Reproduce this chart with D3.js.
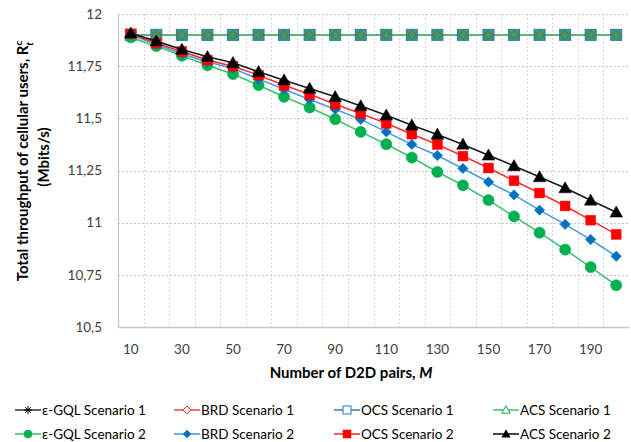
<!DOCTYPE html>
<html>
<head>
<meta charset="utf-8">
<script src="https://cdn.jsdelivr.net/npm/d3@7"></script>
<style>
  body { margin: 0; background: #fff; }
  text { font-family: Lato, "Liberation Sans", sans-serif; }
</style>
</head>
<body>
<div id="chart"></div>
<script>
// categories (number of D2D pairs)
var pairs = [10, 20, 30, 40, 50, 60, 70, 80, 90, 100, 110, 120, 130, 140, 150, 160, 170, 180, 190, 200];
var xTickLabels = [10, 30, 50, 70, 90, 110, 130, 150, 170, 190];
var yTicks = [10.5, 10.75, 11, 11.25, 11.5, 11.75, 12];

// scenario 1 : flat for every algorithm
var gql1 = [11.9, 11.9, 11.9, 11.9, 11.9, 11.9, 11.9, 11.9, 11.9, 11.9, 11.9, 11.9, 11.9, 11.9, 11.9, 11.9, 11.9, 11.9, 11.9, 11.9];
var brd1 = [11.9, 11.9, 11.9, 11.9, 11.9, 11.9, 11.9, 11.9, 11.9, 11.9, 11.9, 11.9, 11.9, 11.9, 11.9, 11.9, 11.9, 11.9, 11.9, 11.9];
var ocs1 = [11.9, 11.9, 11.9, 11.9, 11.9, 11.9, 11.9, 11.9, 11.9, 11.9, 11.9, 11.9, 11.9, 11.9, 11.9, 11.9, 11.9, 11.9, 11.9, 11.9];
var acs1 = [11.9, 11.9, 11.9, 11.9, 11.9, 11.9, 11.9, 11.9, 11.9, 11.9, 11.9, 11.9, 11.9, 11.9, 11.9, 11.9, 11.9, 11.9, 11.9, 11.9];

// scenario 2
var gql2 = [11.888, 11.846, 11.80, 11.754, 11.712, 11.659, 11.603, 11.552, 11.496, 11.435, 11.376, 11.312, 11.243, 11.179, 11.108, 11.03, 10.952, 10.871, 10.787, 10.70];
var brd2 = [11.90, 11.855, 11.81, 11.77, 11.74, 11.688, 11.639, 11.59, 11.544, 11.495, 11.435, 11.375, 11.322, 11.26, 11.195, 11.133, 11.06, 10.992, 10.919, 10.839];
var ocs2 = [11.905, 11.86, 11.82, 11.779, 11.75, 11.707, 11.658, 11.615, 11.568, 11.523, 11.476, 11.424, 11.375, 11.319, 11.262, 11.201, 11.142, 11.08, 11.012, 10.944];
var acs2 = [11.908, 11.87, 11.83, 11.795, 11.766, 11.723, 11.683, 11.643, 11.603, 11.559, 11.515, 11.467, 11.423, 11.375, 11.323, 11.272, 11.219, 11.166, 11.107, 11.05];

var legendNames = ["ε-GQL Scenario 1", "BRD Scenario 1", "OCS Scenario 1", "ACS Scenario 1",
                   "ε-GQL Scenario 2", "BRD Scenario 2", "OCS Scenario 2", "ACS Scenario 2"];

var W = 631, H = 442;
var margin = {top: 14, right: 2, bottom: 115, left: 118};
var width = W - margin.left - margin.right,
    height = H - margin.top - margin.bottom;

var svg = d3.select("#chart").append("svg")
    .attr("width", W)
    .attr("height", H);
var g = svg.append("g")
    .attr("transform", "translate(" + margin.left + "," + margin.top + ")");

var x = d3.scaleBand().domain(pairs).range([0, width]).padding(0);
var y = d3.scaleLinear().domain([10.5, 12]).range([height, 0]);
var cx = function(d) { return x(d) + x.bandwidth() / 2; };

// horizontal grid
g.append("g").selectAll("line")
  .data(yTicks.slice(1))
  .enter().append("line")
    .attr("x1", 0).attr("x2", width)
    .attr("y1", function(d) { return Math.round(y(d)) + 0.5; })
    .attr("y2", function(d) { return Math.round(y(d)) + 0.5; })
    .attr("stroke", "#c4c4c4")
    .attr("stroke-dasharray", "2,2");

// vertical grid between categories
g.append("g").selectAll("line")
  .data(pairs.slice(1))
  .enter().append("line")
    .attr("x1", function(d) { return Math.round(x(d)) + 0.5; })
    .attr("x2", function(d) { return Math.round(x(d)) + 0.5; })
    .attr("y1", 0).attr("y2", height)
    .attr("stroke", "#d4d4d4")
    .attr("stroke-dasharray", "2,2");

// axes
var yAxis = g.append("g")
  .call(d3.axisLeft(y).tickValues(yTicks).tickSize(0).tickPadding(16)
        .tickFormat(function(d) { return String(d).replace(".", ","); }));
yAxis.select(".domain").attr("stroke", "#c8c8c8").attr("stroke-width", 1.3);
yAxis.selectAll("text").style("font-size", "13.5px").attr("fill", "#404040");

var xAxis = g.append("g")
  .attr("transform", "translate(0," + height + ")")
  .call(d3.axisBottom(x).tickSize(0).tickPadding(17)
        .tickFormat(function(d) { return xTickLabels.indexOf(d) >= 0 ? d : ""; }));
xAxis.select(".domain").attr("stroke", "#c8c8c8").attr("stroke-width", 1.3);
xAxis.selectAll("text").style("font-size", "13.5px").attr("fill", "#404040");

// axis titles
svg.append("text")
  .attr("x", 351).attr("y", 378)
  .attr("text-anchor", "middle")
  .style("font-size", "15px").style("font-weight", "bold")
  .attr("fill", "#000")
  .text("Number of D2D pairs, ")
  .append("tspan").style("font-style", "italic").text("M");

var yt = svg.append("text")
  .attr("transform", "translate(28,161) rotate(-90)")
  .attr("text-anchor", "middle")
  .style("font-size", "15px").style("font-weight", "bold");
yt.append("tspan").text("Total throughput of cellular users, R");
yt.append("tspan").attr("dy", -6).style("font-size", "10px").text("c");
yt.append("tspan").attr("dx", -5).attr("dy", 11).style("font-size", "10px").style("font-style", "italic").text("t");

svg.append("text")
  .attr("transform", "translate(49,157) rotate(-90)")
  .attr("text-anchor", "middle")
  .style("font-size", "15px").style("font-weight", "bold")
  .text("(Mbits/s)");

// marker drawing, r = half size in px
function drawMarker(sel, kind, s, r) {
  var p;
  if (kind === "star") {
    var a = r * 0.7;
    sel.append("path")
      .attr("d", "M" + (-r) + ",0H" + r + "M0," + (-r) + "V" + r +
                 "M" + (-a) + "," + (-a) + "L" + a + "," + a +
                 "M" + (-a) + "," + a + "L" + a + "," + (-a))
      .attr("stroke", s.mk).attr("stroke-width", 1).attr("fill", "none");
    return;
  }
  if (kind === "circle") {
    p = sel.append("circle").attr("r", r);
  } else if (kind === "square") {
    p = sel.append("rect").attr("x", -r).attr("y", -r).attr("width", 2 * r).attr("height", 2 * r);
  } else if (kind === "diamond") {
    p = sel.append("path").attr("d", "M0," + (-r) + "L" + r + ",0L0," + r + "L" + (-r) + ",0Z");
  } else {
    p = sel.append("path").attr("d", "M0," + (-r * 1.05) + "L" + (r * 1.05) + "," + (r * 0.8) + "L" + (-r * 1.05) + "," + (r * 0.8) + "Z");
  }
  p.attr("fill", s.open ? (s.bg || "none") : s.mk)
   .attr("stroke", s.mk)
   .attr("stroke-width", s.open ? 1 : 0.5);
}

var series = [
  {name: legendNames[0], vals: gql1, line: "#404040", mk: "#000000", kind: "star", open: true, r: 4.5},
  {name: legendNames[2], vals: ocs1, line: "#3a86c8", mk: "#2e75b6", kind: "square", open: true, bg: "#3f9a7c", r: 5.5},
  {name: legendNames[1], vals: brd1, line: "#ff4b4b", mk: "#e0302f", kind: "diamond", open: true, r: 4.5},
  {name: legendNames[3], vals: acs1, line: "#4cc27a", mk: "#00b050", kind: "triangle", open: true, r: 4.5},
  {name: legendNames[4], vals: gql2, line: "#3cc372", mk: "#00b050", kind: "circle", open: false, r: 5.6},
  {name: legendNames[5], vals: brd2, line: "#4a9ee0", mk: "#0070c0", kind: "diamond", open: false, r: 5.2},
  {name: legendNames[6], vals: ocs2, line: "#ff3030", mk: "#ff0000", kind: "square", open: false, r: 4.9},
  {name: legendNames[7], vals: acs2, line: "#1a1a1a", mk: "#000000", kind: "triangle", open: false, r: 6}
];

var line = d3.line()
  .x(function(d) { return cx(d.p); })
  .y(function(d) { return y(d.v); });

// scenario 1 markers sit on top of each other: draw all markers after the four lines
var s1 = series.slice(0, 4), s2 = series.slice(4);
s1.forEach(function(s) {
  g.append("path")
    .datum(pairs.map(function(p, i) { return {p: p, v: s.vals[i]}; }))
    .attr("d", line).attr("fill", "none")
    .attr("stroke", s.line).attr("stroke-width", 1.6);
});
s1.forEach(function(s) {
  g.append("g").selectAll("g")
    .data(pairs.map(function(p, i) { return {p: p, v: s.vals[i]}; }))
    .enter().append("g")
      .attr("transform", function(d) { return "translate(" + cx(d.p) + "," + y(d.v) + ")"; })
      .each(function() { drawMarker(d3.select(this), s.kind, s, s.r); });
});
s2.forEach(function(s) {
  var pts = pairs.map(function(p, i) { return {p: p, v: s.vals[i]}; });
  g.append("path").datum(pts)
    .attr("d", line).attr("fill", "none")
    .attr("stroke", s.line).attr("stroke-width", 1.6);
  g.append("g").selectAll("g")
    .data(pts)
    .enter().append("g")
      .attr("transform", function(d) { return "translate(" + cx(d.p) + "," + y(d.v) + ")"; })
      .each(function() { drawMarker(d3.select(this), s.kind, s, s.r); });
});

// legend, row-wise like the original
var legendOrder = [series[0], series[2], series[1], series[3], series[4], series[5], series[6], series[7]];
var colX = [15, 174, 334, 493], rowY = [410, 434];
var leg = svg.append("g").selectAll("g")
  .data(legendOrder)
  .enter().append("g")
    .attr("transform", function(d, i) { return "translate(" + colX[i % 4] + "," + rowY[Math.floor(i / 4)] + ")"; });
leg.append("line")
  .attr("x1", 0).attr("x2", 26).attr("y1", 0).attr("y2", 0)
  .attr("stroke", function(d) { return d.line; }).attr("stroke-width", 1.6);
leg.each(function(d) {
  var m = d3.select(this).append("g").attr("transform", "translate(13,0)");
  var s = Object.assign({}, d, {bg: d.open ? "#fff" : null});
  drawMarker(m, d.kind, s, 4);
});
leg.append("text")
  .attr("x", 27).attr("y", 0).attr("dy", "0.35em")
  .style("font-size", "13.5px").attr("fill", "#000")
  .text(function(d) { return d.name; });
</script>
</body>
</html>
